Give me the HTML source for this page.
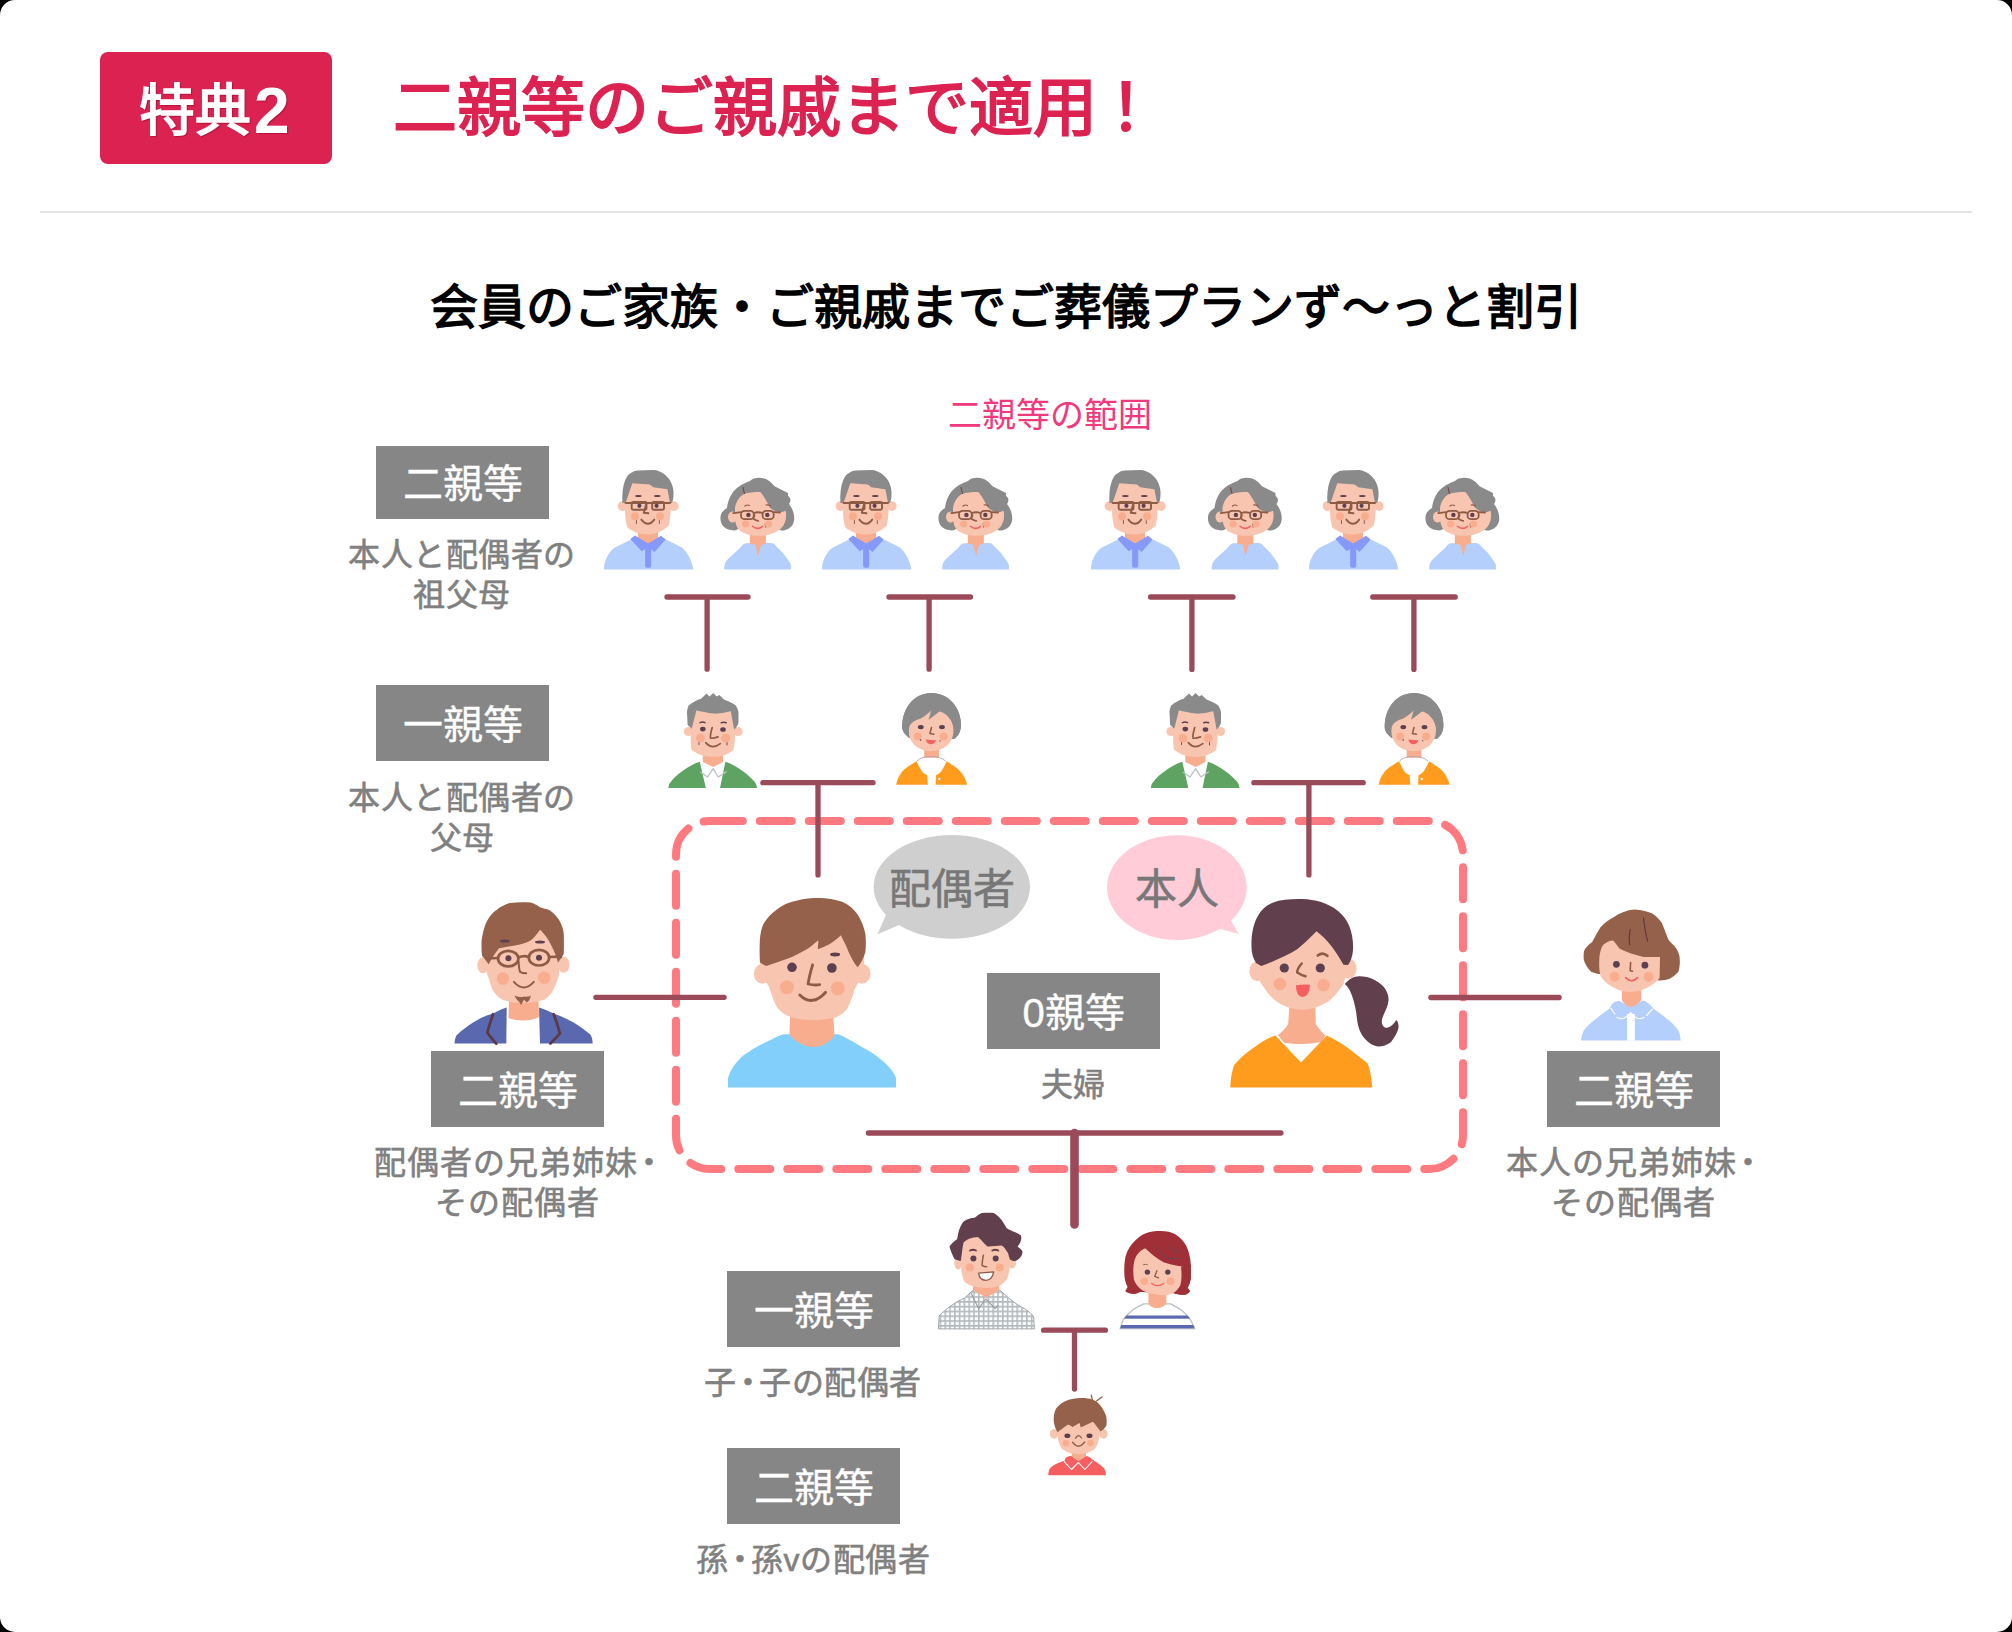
<!DOCTYPE html>
<html lang="zh-CN">
<head>
<meta charset="utf-8">
<style>
html,body{margin:0;padding:0;background:#000;}
body{width:2012px;height:1632px;overflow:hidden;font-family:"Liberation Sans",sans-serif;}
#card{position:absolute;left:0;top:0;width:2012px;height:1632px;background:#fff;border-radius:15px;overflow:hidden;}
.t{position:absolute;white-space:nowrap;line-height:1;}
.c{transform:translateX(-50%);text-align:center;}
.badge{position:absolute;left:100px;top:52px;width:232px;height:112px;background:#dc2250;border-radius:8px;}
.box{position:absolute;width:173px;height:76px;background:#868686;color:#fff;font-size:40px;line-height:80px;text-align:center;-webkit-text-stroke:0.35px #fff;}
.cap{position:absolute;color:#808080;font-size:32px;line-height:40px;text-align:center;white-space:nowrap;transform:translateX(-50%);-webkit-text-stroke:0.6px #808080;letter-spacing:0.5px;}
.dot{margin:0 -5px;}
svg{position:absolute;left:0;top:0;}
</style>
</head>
<body>
<div id="card">
  <div class="badge"></div>
  <div class="t" style="left:139px;top:79px;font-size:56px;font-weight:bold;color:#fff;text-shadow:1px 1px 1px rgba(90,0,20,.35);">特典<span style="font-size:64px;margin-left:3px;vertical-align:-3px;">2</span></div>
  <div class="t" style="left:393px;top:76px;font-size:64px;font-weight:bold;color:#dc2250;">二親等のご親戚まで適用<span style="margin-left:13px">！</span></div>
  <div style="position:absolute;left:40px;top:211px;width:1932px;height:2px;background:#e3e3e3;"></div>
  <div class="t c" style="left:1006px;top:284px;font-size:48px;font-weight:bold;color:#000;">会員のご家族・ご親戚までご葬儀プランず〜っと割引</div>
  <div class="t c" style="left:1050px;top:398px;font-size:34px;color:#ef3a7e;">二親等の範囲</div>

  <svg width="2012" height="1632" viewBox="0 0 2012 1632">
    <path fill="none" stroke="#ff7a80" stroke-width="8" stroke-linecap="round" stroke-dasharray="32 17" d="M710.8,821 H1429.5 A33.5,33.5 0 0 1 1463,854.5 V1135.5 A33.5,33.5 0 0 1 1429.5,1169 H709.5 A33.5,33.5 0 0 1 676,1135.5 V854.5 A33.5,33.5 0 0 1 709.5,821 Z"/>
    <g stroke="#9b4a5a" stroke-width="5.3" stroke-linecap="round" fill="none">
      <path d="M667,597H748M707.1,597V669.2"/>
      <path d="M889,597H970.5M929.1,597V669.2"/>
      <path d="M1150.6,597H1233M1191.9,597V669.4"/>
      <path d="M1372.8,597H1455.2M1413.9,597V669.4"/>
      <path d="M762.9,782.7H873M818,782.7V874.9"/>
      <path d="M1253.9,782.7H1363.2M1308.9,782.7V874.9"/>
      <path d="M595.9,997.3H724.1"/>
      <path d="M1430.9,997.5H1559.1"/>
      <path d="M868.4,1133H1280.9"/>
      <path stroke-width="8.6" d="M1074.5,1133V1224.4"/>
      <path d="M1043.6,1330.2H1105.4M1074.5,1330.2V1389.1"/>
    </g>
  </svg>
  <svg width="2012" height="1632" viewBox="0 0 2012 1632">
    <defs>
      <pattern id="check" width="4.8" height="4.8" patternUnits="userSpaceOnUse">
        <rect width="4.8" height="4.8" fill="#fff"/>
        <path d="M0 0.8H4.8M0.8 0V4.8" stroke="#b3babe" stroke-width="1.6"/>
      </pattern>
    </defs>

    <!-- grandparents -->
    <g transform="translate(600,465)">
        <path fill="#b5cffc" d="M4,104.4 C4,96 8,88 14,83 L28,76 C29,75.3 30,75 31,75 L66,75 C67,75 68,75.3 69,76 L82,82.5 C88,88 92,96 93.3,104.4 Z"/>
        <path fill="#f9ad8f" d="M38,66 L58,66 L58,75 L48.2,80 L38,75 Z"/>
        <path fill="#8599f9" d="M30.3,74.1 L35,70.4 L48.2,78.5 L61,70.8 L65.7,74.5 L54.6,86.9 L48.2,82 L41.8,86.3 Z"/>
        <rect fill="#8599f9" x="45.1" y="80" width="6.1" height="22.8" rx="2"/>
        <circle fill="#f8c5b0" cx="22.4" cy="41.1" r="4.8"/>
        <circle fill="#f8c5b0" cx="73.9" cy="41.1" r="4.8"/>
        <path fill="#f8c5b0" d="M25,17 L25,45 C25,53 26,59 27.6,62.7 C33,67 40,69.4 48,69.4 C56,69.4 63,66 68.7,60.6 C70,55 70.8,48 70.8,40 L70.8,17 Z"/>
        <path fill="#8a8a8a" d="M22.4,38 C22,30 22.5,22 25,15.5 C27,11 29,9 31,8.1 C33.5,6 35.5,5.5 37.7,5.4 L53.9,5.1 C57,5.3 60,6.5 62.7,8.1 C66,10.5 68.5,13 70.1,15.5 C72.5,20 73.5,24 73.5,27 C73.6,31 73.5,34 72,38 L70,37.7 L67.4,24.3 L53.2,22.2 L49.9,19.5 L32.3,18.2 L25.6,37.7 Z"/>
        <ellipse fill="#5c4050" cx="38.4" cy="31" rx="3.3" ry="1.1"/>
        <ellipse fill="#5c4050" cx="57.3" cy="31" rx="3.3" ry="1.1"/>
        <g fill="none" stroke="#8e5b45" stroke-width="1.9" stroke-linecap="round" stroke-linejoin="round">
          <rect x="31.7" y="37" width="14.8" height="7.8" rx="1.5"/>
          <rect x="52.2" y="37" width="11.8" height="7.8" rx="1.5"/>
          <path d="M25.6,38 H70"/>
          <path d="M46.5,37.7 L43.8,47.8 L48.5,48.2"/>
          <path d="M41.4,54.6 Q48.2,63 54.2,54.6"/>
          <path d="M36.4,55.5 V58.5 M59.3,55.5 V58.5" stroke-width="1"/>
        </g>
        <circle fill="#5c4050" cx="39.4" cy="40.8" r="2.1"/>
        <circle fill="#5c4050" cx="56.6" cy="40.8" r="2.1"/>
        <circle fill="#f9ad8f" cx="35" cy="51.2" r="4"/>
        <circle fill="#f9ad8f" cx="60" cy="51.2" r="4"/>
    </g>
    <g transform="translate(710,465)">
        <path fill="#8a8a8a" d="M47,13 C56,12 62,17 66,24 C69,28 72,30 76,30 C80,31 82,35 79,39 C82,43 84.5,48 84.2,54 C84,60 80,64 74,65.5 C71,66 69,65 67,62 L30,62 C28,65 25,66 21,65 C13,64 10,58 10.5,52 C11,47 14,45 17,43 C18,35 21,28 27,23 C32,19 37,17 40,16 C42,14 44,13 47,13 Z"/>
        <path fill="#b5cffc" d="M14.2,104.4 C14.2,99 15.5,96.5 18,94 L30,83 C32,80.5 33.5,78.5 36,78.2 L61,78 C63,78 64.5,79 66,81 L73,88 C76,92 79,96 80.9,99.5 L80.9,104.4 Z"/>
        <path fill="#f9ad8f" d="M39.8,66 H55.9 V79 L51.2,79.5 L48.2,91 L45.1,79.5 L39.8,79 Z"/>
        <ellipse fill="#f8c5b0" cx="22.5" cy="52" rx="4.5" ry="5.5"/><path fill="#f8c5b0" d="M25,43 C26,36 30,31 34,29 C38,27.5 44,27 49.9,27 C58,27 66,30 71,36 C75,41 76.1,46 76.1,51 C76,58 72,64 67.4,66 C62,69.5 55,70.8 48.2,70.8 C41,70.8 34,69 29,65 C26.5,62 25,58 25,52 Z"/>
        <path fill="#8a8a8a" d="M49.9,26.5 C53,30 56,35 58,39 C59,42 61,44 64,45.5 C67,47 70,47.2 72,47 L78,45 L78,28 L62,20 Z"/>
        <path fill="none" stroke="#7a3a3a" stroke-width="1" d="M33,22.2 C33.5,25 34,27 34.6,29"/>
        <g fill="none" stroke="#8e5b45" stroke-width="1.8" stroke-linecap="round">
          <path d="M35,41 Q37,39.3 39.5,40.5 M56,40 Q58.5,39.5 60.5,41" stroke-width="1.2"/>
          <rect x="31" y="45.8" width="12.8" height="8.4" rx="3.5"/>
          <rect x="52.6" y="45.8" width="11.1" height="8.4" rx="3.5"/>
          <path d="M23.2,48.2 L31,47.2 M43.8,48 Q48,46.5 52.6,48 M63.7,47.2 L70,47.5"/>
          <path d="M44.5,50.2 Q43,53 43.8,54 Q46,55.5 48.2,55.9"/>
          <path d="M55,59 L55.7,62.3" stroke-width="0.9"/>
        </g>
        <circle fill="#5c4050" cx="38.4" cy="49.9" r="2.2"/>
        <circle fill="#5c4050" cx="57.3" cy="49.9" r="2.2"/>
        <circle fill="#f9ad8f" cx="35.7" cy="59" r="3.6"/>
        <circle fill="#f9ad8f" cx="58.6" cy="59" r="3.6"/>
        <path fill="none" stroke="#f55f5f" stroke-width="1.5" stroke-linecap="round" d="M42.5,61.3 Q47.5,65.5 52.6,61.3"/>
    </g>
    <g transform="translate(818,465)">
        <path fill="#b5cffc" d="M4,104.4 C4,96 8,88 14,83 L28,76 C29,75.3 30,75 31,75 L66,75 C67,75 68,75.3 69,76 L82,82.5 C88,88 92,96 93.3,104.4 Z"/>
        <path fill="#f9ad8f" d="M38,66 L58,66 L58,75 L48.2,80 L38,75 Z"/>
        <path fill="#8599f9" d="M30.3,74.1 L35,70.4 L48.2,78.5 L61,70.8 L65.7,74.5 L54.6,86.9 L48.2,82 L41.8,86.3 Z"/>
        <rect fill="#8599f9" x="45.1" y="80" width="6.1" height="22.8" rx="2"/>
        <circle fill="#f8c5b0" cx="22.4" cy="41.1" r="4.8"/>
        <circle fill="#f8c5b0" cx="73.9" cy="41.1" r="4.8"/>
        <path fill="#f8c5b0" d="M25,17 L25,45 C25,53 26,59 27.6,62.7 C33,67 40,69.4 48,69.4 C56,69.4 63,66 68.7,60.6 C70,55 70.8,48 70.8,40 L70.8,17 Z"/>
        <path fill="#8a8a8a" d="M22.4,38 C22,30 22.5,22 25,15.5 C27,11 29,9 31,8.1 C33.5,6 35.5,5.5 37.7,5.4 L53.9,5.1 C57,5.3 60,6.5 62.7,8.1 C66,10.5 68.5,13 70.1,15.5 C72.5,20 73.5,24 73.5,27 C73.6,31 73.5,34 72,38 L70,37.7 L67.4,24.3 L53.2,22.2 L49.9,19.5 L32.3,18.2 L25.6,37.7 Z"/>
        <ellipse fill="#5c4050" cx="38.4" cy="31" rx="3.3" ry="1.1"/>
        <ellipse fill="#5c4050" cx="57.3" cy="31" rx="3.3" ry="1.1"/>
        <g fill="none" stroke="#8e5b45" stroke-width="1.9" stroke-linecap="round" stroke-linejoin="round">
          <rect x="31.7" y="37" width="14.8" height="7.8" rx="1.5"/>
          <rect x="52.2" y="37" width="11.8" height="7.8" rx="1.5"/>
          <path d="M25.6,38 H70"/>
          <path d="M46.5,37.7 L43.8,47.8 L48.5,48.2"/>
          <path d="M41.4,54.6 Q48.2,63 54.2,54.6"/>
          <path d="M36.4,55.5 V58.5 M59.3,55.5 V58.5" stroke-width="1"/>
        </g>
        <circle fill="#5c4050" cx="39.4" cy="40.8" r="2.1"/>
        <circle fill="#5c4050" cx="56.6" cy="40.8" r="2.1"/>
        <circle fill="#f9ad8f" cx="35" cy="51.2" r="4"/>
        <circle fill="#f9ad8f" cx="60" cy="51.2" r="4"/>
    </g>
    <g transform="translate(928,465)">
        <path fill="#8a8a8a" d="M47,13 C56,12 62,17 66,24 C69,28 72,30 76,30 C80,31 82,35 79,39 C82,43 84.5,48 84.2,54 C84,60 80,64 74,65.5 C71,66 69,65 67,62 L30,62 C28,65 25,66 21,65 C13,64 10,58 10.5,52 C11,47 14,45 17,43 C18,35 21,28 27,23 C32,19 37,17 40,16 C42,14 44,13 47,13 Z"/>
        <path fill="#b5cffc" d="M14.2,104.4 C14.2,99 15.5,96.5 18,94 L30,83 C32,80.5 33.5,78.5 36,78.2 L61,78 C63,78 64.5,79 66,81 L73,88 C76,92 79,96 80.9,99.5 L80.9,104.4 Z"/>
        <path fill="#f9ad8f" d="M39.8,66 H55.9 V79 L51.2,79.5 L48.2,91 L45.1,79.5 L39.8,79 Z"/>
        <ellipse fill="#f8c5b0" cx="22.5" cy="52" rx="4.5" ry="5.5"/><path fill="#f8c5b0" d="M25,43 C26,36 30,31 34,29 C38,27.5 44,27 49.9,27 C58,27 66,30 71,36 C75,41 76.1,46 76.1,51 C76,58 72,64 67.4,66 C62,69.5 55,70.8 48.2,70.8 C41,70.8 34,69 29,65 C26.5,62 25,58 25,52 Z"/>
        <path fill="#8a8a8a" d="M49.9,26.5 C53,30 56,35 58,39 C59,42 61,44 64,45.5 C67,47 70,47.2 72,47 L78,45 L78,28 L62,20 Z"/>
        <path fill="none" stroke="#7a3a3a" stroke-width="1" d="M33,22.2 C33.5,25 34,27 34.6,29"/>
        <g fill="none" stroke="#8e5b45" stroke-width="1.8" stroke-linecap="round">
          <path d="M35,41 Q37,39.3 39.5,40.5 M56,40 Q58.5,39.5 60.5,41" stroke-width="1.2"/>
          <rect x="31" y="45.8" width="12.8" height="8.4" rx="3.5"/>
          <rect x="52.6" y="45.8" width="11.1" height="8.4" rx="3.5"/>
          <path d="M23.2,48.2 L31,47.2 M43.8,48 Q48,46.5 52.6,48 M63.7,47.2 L70,47.5"/>
          <path d="M44.5,50.2 Q43,53 43.8,54 Q46,55.5 48.2,55.9"/>
          <path d="M55,59 L55.7,62.3" stroke-width="0.9"/>
        </g>
        <circle fill="#5c4050" cx="38.4" cy="49.9" r="2.2"/>
        <circle fill="#5c4050" cx="57.3" cy="49.9" r="2.2"/>
        <circle fill="#f9ad8f" cx="35.7" cy="59" r="3.6"/>
        <circle fill="#f9ad8f" cx="58.6" cy="59" r="3.6"/>
        <path fill="none" stroke="#f55f5f" stroke-width="1.5" stroke-linecap="round" d="M42.5,61.3 Q47.5,65.5 52.6,61.3"/>
    </g>
    <g transform="translate(1087,465)">
        <path fill="#b5cffc" d="M4,104.4 C4,96 8,88 14,83 L28,76 C29,75.3 30,75 31,75 L66,75 C67,75 68,75.3 69,76 L82,82.5 C88,88 92,96 93.3,104.4 Z"/>
        <path fill="#f9ad8f" d="M38,66 L58,66 L58,75 L48.2,80 L38,75 Z"/>
        <path fill="#8599f9" d="M30.3,74.1 L35,70.4 L48.2,78.5 L61,70.8 L65.7,74.5 L54.6,86.9 L48.2,82 L41.8,86.3 Z"/>
        <rect fill="#8599f9" x="45.1" y="80" width="6.1" height="22.8" rx="2"/>
        <circle fill="#f8c5b0" cx="22.4" cy="41.1" r="4.8"/>
        <circle fill="#f8c5b0" cx="73.9" cy="41.1" r="4.8"/>
        <path fill="#f8c5b0" d="M25,17 L25,45 C25,53 26,59 27.6,62.7 C33,67 40,69.4 48,69.4 C56,69.4 63,66 68.7,60.6 C70,55 70.8,48 70.8,40 L70.8,17 Z"/>
        <path fill="#8a8a8a" d="M22.4,38 C22,30 22.5,22 25,15.5 C27,11 29,9 31,8.1 C33.5,6 35.5,5.5 37.7,5.4 L53.9,5.1 C57,5.3 60,6.5 62.7,8.1 C66,10.5 68.5,13 70.1,15.5 C72.5,20 73.5,24 73.5,27 C73.6,31 73.5,34 72,38 L70,37.7 L67.4,24.3 L53.2,22.2 L49.9,19.5 L32.3,18.2 L25.6,37.7 Z"/>
        <ellipse fill="#5c4050" cx="38.4" cy="31" rx="3.3" ry="1.1"/>
        <ellipse fill="#5c4050" cx="57.3" cy="31" rx="3.3" ry="1.1"/>
        <g fill="none" stroke="#8e5b45" stroke-width="1.9" stroke-linecap="round" stroke-linejoin="round">
          <rect x="31.7" y="37" width="14.8" height="7.8" rx="1.5"/>
          <rect x="52.2" y="37" width="11.8" height="7.8" rx="1.5"/>
          <path d="M25.6,38 H70"/>
          <path d="M46.5,37.7 L43.8,47.8 L48.5,48.2"/>
          <path d="M41.4,54.6 Q48.2,63 54.2,54.6"/>
          <path d="M36.4,55.5 V58.5 M59.3,55.5 V58.5" stroke-width="1"/>
        </g>
        <circle fill="#5c4050" cx="39.4" cy="40.8" r="2.1"/>
        <circle fill="#5c4050" cx="56.6" cy="40.8" r="2.1"/>
        <circle fill="#f9ad8f" cx="35" cy="51.2" r="4"/>
        <circle fill="#f9ad8f" cx="60" cy="51.2" r="4"/>
    </g>
    <g transform="translate(1197.5,465)">
        <path fill="#8a8a8a" d="M47,13 C56,12 62,17 66,24 C69,28 72,30 76,30 C80,31 82,35 79,39 C82,43 84.5,48 84.2,54 C84,60 80,64 74,65.5 C71,66 69,65 67,62 L30,62 C28,65 25,66 21,65 C13,64 10,58 10.5,52 C11,47 14,45 17,43 C18,35 21,28 27,23 C32,19 37,17 40,16 C42,14 44,13 47,13 Z"/>
        <path fill="#b5cffc" d="M14.2,104.4 C14.2,99 15.5,96.5 18,94 L30,83 C32,80.5 33.5,78.5 36,78.2 L61,78 C63,78 64.5,79 66,81 L73,88 C76,92 79,96 80.9,99.5 L80.9,104.4 Z"/>
        <path fill="#f9ad8f" d="M39.8,66 H55.9 V79 L51.2,79.5 L48.2,91 L45.1,79.5 L39.8,79 Z"/>
        <ellipse fill="#f8c5b0" cx="22.5" cy="52" rx="4.5" ry="5.5"/><path fill="#f8c5b0" d="M25,43 C26,36 30,31 34,29 C38,27.5 44,27 49.9,27 C58,27 66,30 71,36 C75,41 76.1,46 76.1,51 C76,58 72,64 67.4,66 C62,69.5 55,70.8 48.2,70.8 C41,70.8 34,69 29,65 C26.5,62 25,58 25,52 Z"/>
        <path fill="#8a8a8a" d="M49.9,26.5 C53,30 56,35 58,39 C59,42 61,44 64,45.5 C67,47 70,47.2 72,47 L78,45 L78,28 L62,20 Z"/>
        <path fill="none" stroke="#7a3a3a" stroke-width="1" d="M33,22.2 C33.5,25 34,27 34.6,29"/>
        <g fill="none" stroke="#8e5b45" stroke-width="1.8" stroke-linecap="round">
          <path d="M35,41 Q37,39.3 39.5,40.5 M56,40 Q58.5,39.5 60.5,41" stroke-width="1.2"/>
          <rect x="31" y="45.8" width="12.8" height="8.4" rx="3.5"/>
          <rect x="52.6" y="45.8" width="11.1" height="8.4" rx="3.5"/>
          <path d="M23.2,48.2 L31,47.2 M43.8,48 Q48,46.5 52.6,48 M63.7,47.2 L70,47.5"/>
          <path d="M44.5,50.2 Q43,53 43.8,54 Q46,55.5 48.2,55.9"/>
          <path d="M55,59 L55.7,62.3" stroke-width="0.9"/>
        </g>
        <circle fill="#5c4050" cx="38.4" cy="49.9" r="2.2"/>
        <circle fill="#5c4050" cx="57.3" cy="49.9" r="2.2"/>
        <circle fill="#f9ad8f" cx="35.7" cy="59" r="3.6"/>
        <circle fill="#f9ad8f" cx="58.6" cy="59" r="3.6"/>
        <path fill="none" stroke="#f55f5f" stroke-width="1.5" stroke-linecap="round" d="M42.5,61.3 Q47.5,65.5 52.6,61.3"/>
    </g>
    <g transform="translate(1305,465)">
        <path fill="#b5cffc" d="M4,104.4 C4,96 8,88 14,83 L28,76 C29,75.3 30,75 31,75 L66,75 C67,75 68,75.3 69,76 L82,82.5 C88,88 92,96 93.3,104.4 Z"/>
        <path fill="#f9ad8f" d="M38,66 L58,66 L58,75 L48.2,80 L38,75 Z"/>
        <path fill="#8599f9" d="M30.3,74.1 L35,70.4 L48.2,78.5 L61,70.8 L65.7,74.5 L54.6,86.9 L48.2,82 L41.8,86.3 Z"/>
        <rect fill="#8599f9" x="45.1" y="80" width="6.1" height="22.8" rx="2"/>
        <circle fill="#f8c5b0" cx="22.4" cy="41.1" r="4.8"/>
        <circle fill="#f8c5b0" cx="73.9" cy="41.1" r="4.8"/>
        <path fill="#f8c5b0" d="M25,17 L25,45 C25,53 26,59 27.6,62.7 C33,67 40,69.4 48,69.4 C56,69.4 63,66 68.7,60.6 C70,55 70.8,48 70.8,40 L70.8,17 Z"/>
        <path fill="#8a8a8a" d="M22.4,38 C22,30 22.5,22 25,15.5 C27,11 29,9 31,8.1 C33.5,6 35.5,5.5 37.7,5.4 L53.9,5.1 C57,5.3 60,6.5 62.7,8.1 C66,10.5 68.5,13 70.1,15.5 C72.5,20 73.5,24 73.5,27 C73.6,31 73.5,34 72,38 L70,37.7 L67.4,24.3 L53.2,22.2 L49.9,19.5 L32.3,18.2 L25.6,37.7 Z"/>
        <ellipse fill="#5c4050" cx="38.4" cy="31" rx="3.3" ry="1.1"/>
        <ellipse fill="#5c4050" cx="57.3" cy="31" rx="3.3" ry="1.1"/>
        <g fill="none" stroke="#8e5b45" stroke-width="1.9" stroke-linecap="round" stroke-linejoin="round">
          <rect x="31.7" y="37" width="14.8" height="7.8" rx="1.5"/>
          <rect x="52.2" y="37" width="11.8" height="7.8" rx="1.5"/>
          <path d="M25.6,38 H70"/>
          <path d="M46.5,37.7 L43.8,47.8 L48.5,48.2"/>
          <path d="M41.4,54.6 Q48.2,63 54.2,54.6"/>
          <path d="M36.4,55.5 V58.5 M59.3,55.5 V58.5" stroke-width="1"/>
        </g>
        <circle fill="#5c4050" cx="39.4" cy="40.8" r="2.1"/>
        <circle fill="#5c4050" cx="56.6" cy="40.8" r="2.1"/>
        <circle fill="#f9ad8f" cx="35" cy="51.2" r="4"/>
        <circle fill="#f9ad8f" cx="60" cy="51.2" r="4"/>
    </g>
    <g transform="translate(1415,465)">
        <path fill="#8a8a8a" d="M47,13 C56,12 62,17 66,24 C69,28 72,30 76,30 C80,31 82,35 79,39 C82,43 84.5,48 84.2,54 C84,60 80,64 74,65.5 C71,66 69,65 67,62 L30,62 C28,65 25,66 21,65 C13,64 10,58 10.5,52 C11,47 14,45 17,43 C18,35 21,28 27,23 C32,19 37,17 40,16 C42,14 44,13 47,13 Z"/>
        <path fill="#b5cffc" d="M14.2,104.4 C14.2,99 15.5,96.5 18,94 L30,83 C32,80.5 33.5,78.5 36,78.2 L61,78 C63,78 64.5,79 66,81 L73,88 C76,92 79,96 80.9,99.5 L80.9,104.4 Z"/>
        <path fill="#f9ad8f" d="M39.8,66 H55.9 V79 L51.2,79.5 L48.2,91 L45.1,79.5 L39.8,79 Z"/>
        <ellipse fill="#f8c5b0" cx="22.5" cy="52" rx="4.5" ry="5.5"/><path fill="#f8c5b0" d="M25,43 C26,36 30,31 34,29 C38,27.5 44,27 49.9,27 C58,27 66,30 71,36 C75,41 76.1,46 76.1,51 C76,58 72,64 67.4,66 C62,69.5 55,70.8 48.2,70.8 C41,70.8 34,69 29,65 C26.5,62 25,58 25,52 Z"/>
        <path fill="#8a8a8a" d="M49.9,26.5 C53,30 56,35 58,39 C59,42 61,44 64,45.5 C67,47 70,47.2 72,47 L78,45 L78,28 L62,20 Z"/>
        <path fill="none" stroke="#7a3a3a" stroke-width="1" d="M33,22.2 C33.5,25 34,27 34.6,29"/>
        <g fill="none" stroke="#8e5b45" stroke-width="1.8" stroke-linecap="round">
          <path d="M35,41 Q37,39.3 39.5,40.5 M56,40 Q58.5,39.5 60.5,41" stroke-width="1.2"/>
          <rect x="31" y="45.8" width="12.8" height="8.4" rx="3.5"/>
          <rect x="52.6" y="45.8" width="11.1" height="8.4" rx="3.5"/>
          <path d="M23.2,48.2 L31,47.2 M43.8,48 Q48,46.5 52.6,48 M63.7,47.2 L70,47.5"/>
          <path d="M44.5,50.2 Q43,53 43.8,54 Q46,55.5 48.2,55.9"/>
          <path d="M55,59 L55.7,62.3" stroke-width="0.9"/>
        </g>
        <circle fill="#5c4050" cx="38.4" cy="49.9" r="2.2"/>
        <circle fill="#5c4050" cx="57.3" cy="49.9" r="2.2"/>
        <circle fill="#f9ad8f" cx="35.7" cy="59" r="3.6"/>
        <circle fill="#f9ad8f" cx="58.6" cy="59" r="3.6"/>
        <path fill="none" stroke="#f55f5f" stroke-width="1.5" stroke-linecap="round" d="M42.5,61.3 Q47.5,65.5 52.6,61.3"/>
    </g>
    <!-- parents -->
    <g transform="translate(660,685)">
        <path fill="#5fa363" d="M8.4,103.1 C8.6,100 9.5,98 10.8,97 C14,92.5 18,89 22.2,86.3 C28,82 34,78.5 39.8,76.8 L45.8,103.1 Z"/>
        <path fill="#5fa363" d="M65.4,76.8 C71,78.5 77,82 82.9,86.3 C87,89 91,93 94.4,96.4 C96,98.5 96.8,100.5 97,103.1 L60,103.1 Z"/>
        <path fill="none" stroke="#bac0c5" stroke-width="1.3" stroke-linejoin="round" d="M40.4,87 L47.5,92 L53.2,83.6 L58.3,92 L66.4,86.6"/>
        <path fill="#f9ad8f" d="M42.8,68 H63 V77 L53.2,82 L42.8,77 Z"/>
        <circle fill="#f8c5b0" cx="28.5" cy="46.5" r="4.6"/>
        <circle fill="#f8c5b0" cx="78" cy="46.5" r="4.6"/>
        <path fill="#f8c5b0" d="M30.7,26 L30.7,55 C30.7,60 31,63 31.7,64.7 C38,70 45,71.8 53.2,71.8 C61,71.8 68,70 73.5,64.7 C74.5,60 75.2,55 75.2,45 L75.2,26 Z"/>
        <path fill="#8a8a8a" d="M27,27 C27.5,22 29,20.2 29,20.2 C33,17 37,15 41.1,13.8 L46.5,8.4 L49.5,11.5 L53.2,8.1 L56.6,11.5 L59.3,10.1 L64,14.5 C68,16 72,18 75.5,20.2 C77.5,23 78.5,26 78.5,28.3 L78.5,37.7 C78,40 76,43 74.1,44.5 L70.8,26.3 C67,27 63,28 59.3,28.3 C57,28.6 55,28.7 53.9,28.6 C47,28 41,26.5 36.4,25.6 L31.7,43.8 C30,42 28.5,41 27.6,39.8 Z"/>
        <g fill="none" stroke-linecap="round">
          <path stroke="#5c4050" stroke-width="1.5" d="M40,37.6 Q42.5,36.5 45,37.6 M61.2,37.8 Q63.7,36.8 66.2,37.8"/>
          <path stroke="#8e5b45" stroke-width="1.7" stroke-linejoin="round" d="M52.2,42.5 Q50,50 50.5,53.2 Q54,53.5 58,51.9"/>
          <path stroke="#8e5b45" stroke-width="1.7" d="M45.8,57.6 Q52,65 60.3,58.6"/>
          <path stroke="#5c4050" stroke-width="0.9" d="M39,56.5 V59.5 M67,57.3 V60"/>
        </g>
        <ellipse fill="#5c4050" cx="42.8" cy="44.1" rx="2.8" ry="2.3"/>
        <ellipse fill="#5c4050" cx="63" cy="44.5" rx="2.8" ry="2.3"/>
        <circle fill="#f9ad8f" cx="40.4" cy="53.2" r="4.4"/>
        <circle fill="#f9ad8f" cx="65.7" cy="53.2" r="4.4"/>
    </g>
    <g transform="translate(880,685)">
        <path fill="#8a8a8a" d="M22.2,42 C22.2,22 35,8.1 51.5,8.1 C68,8.1 80.9,22 80.9,40 C80.9,46 79,50 74,54 L29,53 C25,50 22.2,46 22.2,42 Z"/>
        <rect fill="#f9ad8f" x="44.2" y="62" width="14.8" height="10.8"/>
        <path fill="#f8c5b0" d="M28.6,45 C28.6,58 38,66 51,66 C64,66 73.5,58 73.5,45 C73.5,33 64,25 51,25 C38,25 28.6,33 28.6,45 Z"/>
        <path fill="#8a8a8a" d="M22.2,42 C22.2,22 35,8.1 51.5,8.1 C68,8.1 80.9,22 80.9,40 C80.9,46 79,50 74.5,54 L73.5,41.8 C72.5,38 71,35 68.8,32.4 C67,30 64,27 61.3,25.3 C57,28 53,32 48.5,34.7 L51.2,25.6 C48,28.5 45,31.5 40.4,33.7 C35,35 30,38 29,43.1 L28.6,52 C25,49 22.2,46 22.2,42 Z"/>
        <path fill="#ff9c1e" d="M16.2,99.8 C17,95 18.5,92 20.2,89.6 C22,86 24.5,84 27,82.2 L36.4,76.2 C37.5,78 39,82 41.8,86.3 C43.5,88.5 45.5,89.5 47.2,90.3 L47.9,99.8 Z"/>
        <path fill="#ff9c1e" d="M66.7,76.2 L76.8,82.9 C79.5,85 82,88 83.6,91 C85,93.5 86.5,96.5 87,99.8 L55.6,99.8 L56,90.3 C58,89.5 59.5,88 60.7,87 C63,84 65,80 66.7,76.2 Z"/>
        <path fill="none" stroke="#b5a5ad" stroke-width="0.9" d="M37,76 C40,72.8 45,71.5 51.2,71.5 C57,71.5 62,72.8 65.5,76"/>
        <circle fill="#fff" cx="59.3" cy="94" r="1.2"/>
        <ellipse fill="#5c4050" cx="40.8" cy="42.1" rx="2.9" ry="2.2"/>
        <ellipse fill="#5c4050" cx="62" cy="42.1" rx="2.9" ry="2.2"/>
        <path fill="none" stroke="#8e5b45" stroke-width="1.5" stroke-linecap="round" stroke-linejoin="round" d="M51.5,42.5 L49.9,48.5 L53.9,49.2"/>
        <circle fill="#f9ad8f" cx="37.7" cy="51.6" r="4"/>
        <circle fill="#f9ad8f" cx="63.7" cy="51.6" r="4"/>
        <path fill="#f55f5f" d="M45.8,54.6 Q51,55.5 56,55.3 Q54.5,59.3 50.9,59.3 Q47,59.3 45.8,54.6 Z"/>
        <path fill="none" stroke="#5c4050" stroke-width="0.8" d="M40.8,54 L40.6,56 M60,55 L60.2,56.5"/>
    </g>
    <g transform="translate(1142.5,685)">
        <path fill="#5fa363" d="M8.4,103.1 C8.6,100 9.5,98 10.8,97 C14,92.5 18,89 22.2,86.3 C28,82 34,78.5 39.8,76.8 L45.8,103.1 Z"/>
        <path fill="#5fa363" d="M65.4,76.8 C71,78.5 77,82 82.9,86.3 C87,89 91,93 94.4,96.4 C96,98.5 96.8,100.5 97,103.1 L60,103.1 Z"/>
        <path fill="none" stroke="#bac0c5" stroke-width="1.3" stroke-linejoin="round" d="M40.4,87 L47.5,92 L53.2,83.6 L58.3,92 L66.4,86.6"/>
        <path fill="#f9ad8f" d="M42.8,68 H63 V77 L53.2,82 L42.8,77 Z"/>
        <circle fill="#f8c5b0" cx="28.5" cy="46.5" r="4.6"/>
        <circle fill="#f8c5b0" cx="78" cy="46.5" r="4.6"/>
        <path fill="#f8c5b0" d="M30.7,26 L30.7,55 C30.7,60 31,63 31.7,64.7 C38,70 45,71.8 53.2,71.8 C61,71.8 68,70 73.5,64.7 C74.5,60 75.2,55 75.2,45 L75.2,26 Z"/>
        <path fill="#8a8a8a" d="M27,27 C27.5,22 29,20.2 29,20.2 C33,17 37,15 41.1,13.8 L46.5,8.4 L49.5,11.5 L53.2,8.1 L56.6,11.5 L59.3,10.1 L64,14.5 C68,16 72,18 75.5,20.2 C77.5,23 78.5,26 78.5,28.3 L78.5,37.7 C78,40 76,43 74.1,44.5 L70.8,26.3 C67,27 63,28 59.3,28.3 C57,28.6 55,28.7 53.9,28.6 C47,28 41,26.5 36.4,25.6 L31.7,43.8 C30,42 28.5,41 27.6,39.8 Z"/>
        <g fill="none" stroke-linecap="round">
          <path stroke="#5c4050" stroke-width="1.5" d="M40,37.6 Q42.5,36.5 45,37.6 M61.2,37.8 Q63.7,36.8 66.2,37.8"/>
          <path stroke="#8e5b45" stroke-width="1.7" stroke-linejoin="round" d="M52.2,42.5 Q50,50 50.5,53.2 Q54,53.5 58,51.9"/>
          <path stroke="#8e5b45" stroke-width="1.7" d="M45.8,57.6 Q52,65 60.3,58.6"/>
          <path stroke="#5c4050" stroke-width="0.9" d="M39,56.5 V59.5 M67,57.3 V60"/>
        </g>
        <ellipse fill="#5c4050" cx="42.8" cy="44.1" rx="2.8" ry="2.3"/>
        <ellipse fill="#5c4050" cx="63" cy="44.5" rx="2.8" ry="2.3"/>
        <circle fill="#f9ad8f" cx="40.4" cy="53.2" r="4.4"/>
        <circle fill="#f9ad8f" cx="65.7" cy="53.2" r="4.4"/>
    </g>
    <g transform="translate(1362.5,685)">
        <path fill="#8a8a8a" d="M22.2,42 C22.2,22 35,8.1 51.5,8.1 C68,8.1 80.9,22 80.9,40 C80.9,46 79,50 74,54 L29,53 C25,50 22.2,46 22.2,42 Z"/>
        <rect fill="#f9ad8f" x="44.2" y="62" width="14.8" height="10.8"/>
        <path fill="#f8c5b0" d="M28.6,45 C28.6,58 38,66 51,66 C64,66 73.5,58 73.5,45 C73.5,33 64,25 51,25 C38,25 28.6,33 28.6,45 Z"/>
        <path fill="#8a8a8a" d="M22.2,42 C22.2,22 35,8.1 51.5,8.1 C68,8.1 80.9,22 80.9,40 C80.9,46 79,50 74.5,54 L73.5,41.8 C72.5,38 71,35 68.8,32.4 C67,30 64,27 61.3,25.3 C57,28 53,32 48.5,34.7 L51.2,25.6 C48,28.5 45,31.5 40.4,33.7 C35,35 30,38 29,43.1 L28.6,52 C25,49 22.2,46 22.2,42 Z"/>
        <path fill="#ff9c1e" d="M16.2,99.8 C17,95 18.5,92 20.2,89.6 C22,86 24.5,84 27,82.2 L36.4,76.2 C37.5,78 39,82 41.8,86.3 C43.5,88.5 45.5,89.5 47.2,90.3 L47.9,99.8 Z"/>
        <path fill="#ff9c1e" d="M66.7,76.2 L76.8,82.9 C79.5,85 82,88 83.6,91 C85,93.5 86.5,96.5 87,99.8 L55.6,99.8 L56,90.3 C58,89.5 59.5,88 60.7,87 C63,84 65,80 66.7,76.2 Z"/>
        <path fill="none" stroke="#b5a5ad" stroke-width="0.9" d="M37,76 C40,72.8 45,71.5 51.2,71.5 C57,71.5 62,72.8 65.5,76"/>
        <circle fill="#fff" cx="59.3" cy="94" r="1.2"/>
        <ellipse fill="#5c4050" cx="40.8" cy="42.1" rx="2.9" ry="2.2"/>
        <ellipse fill="#5c4050" cx="62" cy="42.1" rx="2.9" ry="2.2"/>
        <path fill="none" stroke="#8e5b45" stroke-width="1.5" stroke-linecap="round" stroke-linejoin="round" d="M51.5,42.5 L49.9,48.5 L53.9,49.2"/>
        <circle fill="#f9ad8f" cx="37.7" cy="51.6" r="4"/>
        <circle fill="#f9ad8f" cx="63.7" cy="51.6" r="4"/>
        <path fill="#f55f5f" d="M45.8,54.6 Q51,55.5 56,55.3 Q54.5,59.3 50.9,59.3 Q47,59.3 45.8,54.6 Z"/>
        <path fill="none" stroke="#5c4050" stroke-width="0.8" d="M40.8,54 L40.6,56 M60,55 L60.2,56.5"/>
    </g>

    <!-- bubbles -->
    <ellipse fill="#cfcfcf" cx="951.8" cy="886.9" rx="78.2" ry="51.9"/>
    <path fill="#cfcfcf" d="M889,908 L877.5,934.3 L906,922 Z"/>
    <ellipse fill="#ffccd8" cx="1176.9" cy="887.6" rx="69.8" ry="52.3"/>
    <path fill="#ffccd8" d="M1226,912 L1238.7,933.9 L1210,926 Z"/>

    <!-- spouse -->
    <g transform="translate(720,885)">
      <path fill="#82cffb" d="M8,202.6 L8,193 C10,187 12,183 15.4,178.8 C19,174 23,170 28.3,167.2 C36,162 44,158 51.5,154.4 C56,152 60,150 64.3,149.2 L118.3,149.2 C128,153 138,160 149.2,166 C156,170 162,175 167.2,180.1 C171,184 174,188 176,193 L176,202.6 Z"/>
      <path fill="#f9ad8f" d="M70.1,130 L113.2,130 L114.5,150.5 C110,157 102,162 93.9,162.1 C85,162 76,157 69.5,149.9 Z"/>
      <ellipse fill="#f8c5b0" cx="42.4" cy="88.8" rx="8.5" ry="10"/>
      <ellipse fill="#f8c5b0" cx="142.1" cy="88.8" rx="8.5" ry="10"/>
      <path fill="#f8c5b0" d="M40,62 L44,45 L141,45 L144,62 L144,85 C142,90 139,97 135,102.9 L40,85 Z"/>
      <path fill="#f8c5b0" d="M40,62 L40,85 C42,92 46,97 48.9,101.6 C52,110 54,118 57.9,123.5 C62,128 67,131 72,132.5 C80,134.5 87,135 93.9,135 C101,135 109,134 115.8,132.5 C121,130 125,127 127.3,123.5 C131,116 133,110 135,102.9 C139,97 142,90 144,85 L144,62 Z"/>
      <path fill="#95614a" d="M39.9,77.2 C39.5,70 39.5,62 39.9,54 C40.5,48 41.5,43 43.7,38.6 C47,33 51,29 55.3,25.7 C62,20 69,17 77.2,15.4 C84,13.5 92,12.9 99,12.9 C107,13 115,14.5 122.2,16.7 C129,20 134,24 137.6,29.6 C141,35 144,42 145.4,48.9 C146,55 146,61 145.4,66.9 C144,72 141,78 137.6,82.3 C134,78 131,72 128.6,66.9 C126,60 123,55 120.9,50.2 C117,54 113,57 109.3,59.2 C105,61.5 101,63 97.8,64.3 L98.4,55.3 C95,58 92,61 88.8,63 C84,66 78,69 72,72 C64,75 55,78 46.3,81 C44,80 42,79 39.9,77.2 Z"/>
      <ellipse fill="#5c4050" cx="115.1" cy="69.5" rx="5" ry="1.9"/>
      <circle fill="#5c4050" cx="72" cy="82.3" r="4.8"/>
      <circle fill="#5c4050" cx="111.9" cy="83" r="4.8"/>
      <path fill="none" stroke="#8e5b45" stroke-width="2.8" stroke-linecap="round" stroke-linejoin="round" d="M92.6,79.8 Q89,92 88.1,99 Q94,100.5 99.7,99.7"/>
      <circle fill="#f9ad8f" cx="66.9" cy="102.3" r="7"/>
      <circle fill="#f9ad8f" cx="117.7" cy="103.5" r="7"/>
      <path fill="none" stroke="#8e5b45" stroke-width="3" stroke-linecap="round" d="M79.8,110 Q92,122 105.5,107.4"/>
    </g>

    <!-- self (woman) -->
    <g transform="translate(1220,885)">
      <path fill="#623f4d" d="M124.8,99 C129,94 134,91.3 138.9,91.3 C148,91 157,95 163.4,101.6 C167,106 169,111 168.5,115.8 C168,122 164,128 162.1,133.8 C161,139 163,143 167.2,142.8 C171,142 174,139 176.2,135 C178.5,137 179,141 178.2,144.1 C177,149 174,153 171.1,156.9 C167,160 162,161.5 158.2,161.4 C152,161 146,156 141.5,149.2 C138,143 137,136 136.4,128.6 C135,120 133,112 129.9,105.5 C128,102 126,100 124.8,99 Z"/>
      <path fill="#ff9c1e" d="M10.3,202.6 C10.5,195 12,186 14.1,180.1 C20,173 27,167 34.7,162.1 C41,157 48,153 55.3,150.5 L81,177.5 L106.8,150.5 C114,154 121,158 128.6,163.4 C134,168 140,172 146.6,177.5 C149,180 150.5,186 152.4,202.6 Z"/>
      <path fill="#f9ad8f" d="M69.5,118 L95.2,118 L95.8,138.9 C98,143 102,147 105.5,150.5 L101.6,157 C95,158 88,159 82,159 C76,159 70,158.5 64.3,158 L57.9,149.9 C62,147 66,143 68.2,138.9 Z"/>
      <ellipse fill="#f8c5b0" cx="37.3" cy="86.2" rx="8" ry="10"/>
      <ellipse fill="#f8c5b0" cx="128.6" cy="83.6" rx="8" ry="10"/>
      <path fill="#f8c5b0" d="M39,40 L39,95 C40,97 41.5,99 42.4,100.3 C46,106 50,111 54,114.5 C62,121 72,124.8 82.3,124.8 C92,124.8 101,121 109.3,115.8 C114,112 119,106 123.5,99 C125,95 126,90 126,85 L126,40 Z"/>
      <path fill="#623f4d" d="M31.5,62 C31,40 38,24 52,18 C62,14 72,14 82.3,14.1 C95,14.5 108,18 118,26 C128,34 133,46 133.1,62 C133,70 131,76 128,80 L123.5,79.8 C120,74 116,67 111.9,61.7 C107,55 101,50 96.5,46.3 C91,52 85,58 77.2,64.3 C68,70 55,76 41.2,81 L36,78 C33,73 31.5,68 31.5,62 Z"/>
      <path fill="none" stroke="#8e5b45" stroke-width="2.6" stroke-linecap="round" d="M97.8,70.5 Q102.5,66.5 107.4,70.8"/>
      <circle fill="#5c4050" cx="64.3" cy="83" r="4.6"/>
      <circle fill="#5c4050" cx="100.3" cy="83" r="4.6"/>
      <path fill="none" stroke="#8e5b45" stroke-width="2.5" stroke-linecap="round" stroke-linejoin="round" d="M81.7,78.5 Q77,84 77.2,87.5 Q81,90 85.5,91.3"/>
      <circle fill="#f9ad8f" cx="59.8" cy="99" r="6.3"/>
      <circle fill="#f9ad8f" cx="103.5" cy="100.3" r="6.3"/>
      <path fill="#f55f5f" d="M75.9,100.3 Q83,99 90,99.7 Q89.5,111.9 82.3,111.9 Q76,111.5 75.9,100.3 Z"/>
    </g>

    <!-- left sibling -->
    <g transform="translate(445,895)">
      <path fill="#5a69af" d="M9.5,148.6 C9.8,145 10.5,142 11.4,140.5 C17,135 23,131 28.5,127.3 C35,123 41,120.5 47.5,118.7 C52,116.5 57,114 61.7,112.5 L61.3,148.6 Z"/>
      <path fill="#5a69af" d="M94,112.5 C99,114 104,116.5 109.2,118.7 C116,121 122,124 128.2,127.3 C134,131 140,135 145.3,139.6 C147,142 147.5,145 147.7,148.6 L95,148.6 Z"/>
      <path fill="none" stroke="#5b3a48" stroke-width="2.8" stroke-linecap="round" stroke-linejoin="round" d="M48,119.2 C46,125 44,131 42.3,137.7 C45,141 48,145 51.3,148.6 M108.7,119.2 C111,125 113,131 114.9,138.7 C112,142 109,145 105.4,148.6"/>
      <path fill="#f9ad8f" d="M64.1,102 L93.5,102 L94,122 C89,124.5 84,125.4 77.9,125.4 C72,125.4 67,124.5 63.5,123 Z"/>
      <ellipse fill="#f8c5b0" cx="38" cy="70.3" rx="5.8" ry="8"/>
      <ellipse fill="#f8c5b0" cx="118.7" cy="69.8" rx="5.8" ry="8"/>
      <path fill="#f8c5b0" d="M41.8,30 L41.8,77.9 C44,84 46,90 47.5,95 C50,99 53,102 57,104.5 C63,107 70,107.8 77.9,107.8 C86,107.8 93,107 99.7,104.5 C104,102 107,98 109.2,93.1 C111,89 113,84 114,79.8 L115,30 Z"/>
      <path fill="#95614a" d="M37,60.8 C36.5,56 36.3,50 36.6,45.6 C37.5,39 39,33 40.8,28.5 C44,22 47,18 51.3,15.2 C55,12 60,9.5 64.6,8.1 C72,7 79,7 85.5,7.6 C89,8.5 92,10.5 95,12.3 C98,13.5 101,14 104.5,15.2 C108,17.5 111,20.5 114,24.7 C116.5,29 118,33 118.7,38 C119,45 119,52 118.7,58.9 C117,62 115,65 113,67.4 C112,64 111,61 110.2,58.9 C108,53 105,48 102.6,43.7 C100,40 97.5,37 95,34.7 C92,39 89,43 85.5,45.6 C81,48 76,49.5 71.2,50.3 C65,51.2 60,52 54.1,53.2 C50,58 47,63 43.7,69.3 C41,66 39,63 37,60.8 Z"/>
      <ellipse fill="#5c4050" cx="59.8" cy="46.1" rx="5" ry="1.5"/>
      <ellipse fill="#5c4050" cx="95" cy="47" rx="5" ry="1.5"/>
      <g fill="none" stroke="#8e5b45" stroke-width="2.7" stroke-linecap="round">
        <ellipse cx="63.2" cy="63.6" rx="10.2" ry="7.8"/>
        <ellipse cx="94" cy="62.7" rx="10.2" ry="7.8"/>
        <path d="M73.4,62.5 Q78.5,60 83.8,62 M53,63 L42.7,63.5 M104.2,62 L115.9,61.7"/>
        <path stroke-width="2" stroke-linejoin="round" d="M73.6,66.5 Q74,74 75,76.9 Q78,78.5 81.2,78.3"/>
        <path stroke-width="2" d="M68.9,86.9 Q78.8,98 88.8,86.9"/>
      </g>
      <circle fill="#5c4050" cx="63.4" cy="63.2" r="3"/>
      <circle fill="#5c4050" cx="94" cy="62.7" r="3"/>
      <circle fill="#f9ad8f" cx="57.9" cy="83.6" r="6.3"/>
      <circle fill="#f9ad8f" cx="99.2" cy="82.6" r="6.3"/>
      <path fill="#95614a" d="M69.5,100.5 C73,102 77,102.5 79,101.5 C82,102 84.5,101.5 86,100.8 C85,104 84,106.5 81.5,107.5 L79,104.5 L76,110 L74,106.5 C72,105.5 70.5,103 69.5,100.5 Z"/>
    </g>

    <!-- right sibling -->
    <g transform="translate(1570,900)">
      <path fill="#95614a" d="M64.3,9.6 C72,10 78,11.5 82.7,13.8 C87,17 90,20 91.9,23 C94,28 96,34 98.3,39.5 C101,43 104,45 105.7,47.8 C108,51 109.8,55 109.8,59.7 C110,64 109.5,68 108.4,71.7 C105,75.5 102,77.5 99.2,79 C96,80 93,80.5 89.6,80.4 L30,74 C28,74 25,73.5 21.1,71.7 C17.5,68 15,64 13.8,59.7 C13.5,56 13.5,52 14.7,49.6 C17,46 19.5,44 22.1,42.3 C25,37 27.5,32 30.3,27.6 C34,23 38.5,20 43.2,17.5 C50,13 57,10 64.3,9.6 Z"/>
      <path fill="#b5cffc" d="M11,140.6 C11.5,136 12.5,133 13.8,130.5 C18,125 23,121 27.6,117.6 C32,114 36,111 39.5,108.4 C41,106 42,104 43.2,102.9 C45,101.5 47.5,101 49.6,101.1 L60.2,107 L72.6,100.6 C75.5,101 78.5,103 80.9,105.7 L84.5,109.3 C89,113 94,116.5 99.2,120.4 C103,124 106,127 108.4,130.5 C110,134 110.5,137 110.7,140.6 Z"/>
      <rect fill="#fff" x="57" y="114" width="7.8" height="26.6"/>
      <path fill="none" stroke="#fff" stroke-width="1.1" stroke-linecap="round" d="M40.9,108.4 L45,114 M46.9,117.6 Q50,119 53.3,118.5 Q57,117 60.6,112.6 Q64,117 68,118.5 Q71,119 74.4,117.6 M76.5,115.5 L82.7,108.9"/>
      <path fill="#f9ad8f" d="M51.9,86 L71.2,86 L71.2,100 C68,104 64,107 60.6,107 C57,107 54,104 51.9,100 Z"/>
      <path fill="#f8c5b0" d="M29.4,57 C30,52 31,48 33.1,45 C36,42 39.5,40.5 43.2,40.4 C45.5,43 47.5,46 49.6,48.7 C57,52 65,55 73.5,57 L90,57 L89.6,78 C86,82 84,84 80.9,85.5 C74,90 67,91.9 59.7,91.9 C52,91.9 45,89 38.6,84.5 C34,81 31,78 30.3,75.3 C29,70 29,63 29.4,57 Z"/>
      <path fill="none" stroke="#5b2f3a" stroke-width="1" stroke-linecap="round" d="M60.2,29.4 C59,35 59,40 59.7,45 M73.5,17.9 C74.5,27 76,35 77.6,41.3"/>
      <circle fill="#5c4050" cx="46.4" cy="64.3" r="3.4"/>
      <circle fill="#5c4050" cx="74.9" cy="65.2" r="3.4"/>
      <path fill="none" stroke="#8e5b45" stroke-width="1.6" stroke-linecap="round" stroke-linejoin="round" d="M60.6,62.5 L60.2,70.8 L62.5,71.2"/>
      <circle fill="#f9ad8f" cx="44.6" cy="76.7" r="5"/>
      <circle fill="#f9ad8f" cx="78.6" cy="76.7" r="5"/>
      <path fill="none" stroke="#f55f5f" stroke-width="1.6" stroke-linecap="round" d="M55.6,77.6 Q61.6,84 67.5,77.6"/>
    </g>

    <!-- son -->
    <g transform="translate(930,1205)">
      <path fill="url(#check)" stroke="#a0a5a8" stroke-width="1" d="M8.4,123.9 L9.2,110.8 C14,106 19,102 23.9,98.8 C27,96.5 31,94.5 34.3,93.2 L43,85.3 L70.1,85.3 L79.7,94 C85,98 90,101.5 95.6,104.4 C99,106.5 101.5,109 103.6,111.6 L104.4,123.9 Z"/>
      <path fill="none" stroke="#9a9fa2" stroke-width="1.2" stroke-linejoin="round" d="M41,88 L48.6,103.6 L55.8,94 L65.3,103.6 L68,100"/>
      <path fill="#f9ad8f" d="M43,77 L69.3,77 L69.3,85.3 L56.2,92.4 L43,85.3 Z"/>
      <ellipse fill="#f8c5b0" cx="28.3" cy="58.6" rx="4" ry="6"/>
      <ellipse fill="#f8c5b0" cx="82.1" cy="57.4" rx="4" ry="6"/>
      <path fill="#f8c5b0" d="M33.5,30 L31.1,65.3 C32,70 33,73 34.3,76.5 C37,79 40,80.5 43,81.3 C47,82.5 52,82.9 56.2,82.9 C60,82.9 64,82.3 68.5,81.3 C72,79.5 75,77 77.3,74.1 C78.5,70 79.3,66 79.7,62.9 L78,30 Z"/>
      <path fill="#623f4d" d="M19.5,41.4 C22,38 24.5,36 27.1,34.3 C28,30 28.5,26 29.9,23.1 C31,20 32.5,17.5 34.3,15.9 C37,14 41,13 44.6,12.7 C47,11 49,9 51.8,8 C56,7.5 60,7.5 63.7,8 C67,10 69.5,12.5 71.7,15.1 C73.5,18 75,20.5 76.5,23.1 C79,25 82,26 84.5,27.1 C87,28 89.5,29 90.8,30.3 C91.5,32 91.5,34 90.8,35.9 C90,38 89,40 87.6,41.4 C89.5,43 91.5,44.5 92.4,46.2 C92.5,48.5 92,50.5 90.8,51.8 C89.5,53.5 88,55 86.1,55.8 C83.5,56.5 81.5,55.5 79.7,54.2 L78,48 C76,45 74,42 71.7,40.6 C67,41 62,41.5 57.4,41.4 C54,38 51,34.5 47.8,31.9 C45,32 42.5,32.5 39.8,33.5 C37.5,34.5 35,36 33.5,37.5 C32.5,43 31.8,50 31.1,55.8 C28.5,55.8 26.5,55 24.7,54.2 C22.5,50 20.5,46 19.5,41.4 Z"/>
      <path fill="none" stroke="#623f4d" stroke-width="1.8" stroke-linecap="round" d="M40,45.5 Q43,44 46,45.5 M62.3,45.5 Q65.3,44 68.3,45.5"/>
      <circle fill="#5c4050" cx="43.4" cy="53.4" r="3"/>
      <circle fill="#5c4050" cx="65.7" cy="53.4" r="3"/>
      <path fill="none" stroke="#8e5b45" stroke-width="1.5" stroke-linecap="round" stroke-linejoin="round" d="M53.4,50.2 Q52,57 52.2,60.6 Q54.5,61.8 56.6,61.8"/>
      <circle fill="#f9ad8f" cx="39.8" cy="62.5" r="4"/>
      <circle fill="#f9ad8f" cx="69.7" cy="62.5" r="4"/>
      <path fill="#fff" stroke="#8e5b45" stroke-width="1.3" stroke-linejoin="round" d="M48.6,68.1 L63.7,66.9 Q62,75.3 55.8,75.3 Q49.5,75 48.6,68.1 Z"/>
    </g>

    <!-- daughter-in-law -->
    <g transform="translate(1110,1220)">
      <defs><clipPath id="dshirt"><path d="M10.2,108.5 C11.5,104 12.5,101 14.1,98.7 C17,94.5 20,92 23.3,89.5 C27,87 30,85.5 33.8,83.9 L60.6,83.9 C64,85.5 67,87.5 70.5,89.5 C73.5,92 76.5,94.5 78.9,97.3 C81.5,101 83,104 84.6,108.5 Z"/></clipPath></defs>
      <path fill="#a02f37" d="M50.7,10.9 C57,11 61,12 64.8,14.1 C70,17.5 73.5,21 76.1,25.4 C78.5,30 79.5,35 80.3,39.5 C81,45 81,50 81,56.4 C80.5,61 79.5,65 77.5,67.7 C78.5,69 79.5,70 80,71.2 C78,73.5 76.5,74.5 74.7,74.7 C71,75 67.5,74.5 64.1,73.3 L30.3,71.9 C28,73 25.5,74 23.3,74 C20,73.8 17,72.5 15.2,71.2 C16,69.5 17,68 17.6,66.9 C15.5,63 14.5,59 14.4,55 C14,48 14.5,42 15.5,36.6 C17.5,30 20.5,25 24.7,21.1 C28,17.5 31.5,15 35.2,13.4 C40,11.5 45,10.9 50.7,10.9 Z"/>
      <path fill="#fff" stroke="#b8c0c4" stroke-width="1.3" d="M10.2,108.5 C11.5,104 12.5,101 14.1,98.7 C17,94.5 20,92 23.3,89.5 C27,87 30,85.5 33.8,83.9 L60.6,83.9 C64,85.5 67,87.5 70.5,89.5 C73.5,92 76.5,94.5 78.9,97.3 C81.5,101 83,104 84.6,108.5 Z"/>
      <g clip-path="url(#dshirt)" fill="#5a69af"><rect x="0" y="95.5" width="90" height="3.2"/><rect x="0" y="105" width="90" height="3.6"/></g>
      <path fill="#f9ad8f" d="M38.4,68 L56.4,68 L56.4,84 C53,87 50,88.1 47.2,88.1 C44,88.1 41,87 38.4,84 Z"/>
      <path fill="#f8c5b0" d="M23.3,47.9 C24,41 25,38 26.8,35.2 C29,32 32,29.5 35.2,28.2 C40,33 46,38 53.6,42.3 C60,44.5 67,46 73.3,46.5 C73.5,55 73,62 71,66 C68,71 63,74 57,75 C53,75.3 50,75 47.9,74.7 C42,74 37,72.5 32.5,70.5 C28,67 25.5,64 24,60 C23.3,56 23.2,52 23.3,47.9 Z"/>
      <path fill="#a02f37" d="M71,46.5 L81,45 L81,56.4 C80.5,61 79.5,65 77.5,67.7 C78.5,69 79.5,70 80,71.2 C78,73.5 76.5,74.5 74.7,74.7 C71,75 67.5,74.5 64.1,73.3 C66,71 68.5,68.5 70,66 C71.5,62 72,55 71,46.5 Z"/>
      <path fill="none" stroke="#5a4a5a" stroke-width="0.9" stroke-linecap="round" d="M45.8,26.1 C50,32 55,36.5 58.5,38.1 C62,39 66,38.8 69.4,38.4 M58.5,26.4 C62,29.5 66,31.5 69.4,32.4"/>
      <path fill="none" stroke="#8e5b45" stroke-width="0.9" stroke-linecap="round" d="M33.5,44.6 Q35.5,44 37.3,44.6"/>
      <circle fill="#5c4050" cx="37.4" cy="52.1" r="2.7"/>
      <circle fill="#5c4050" cx="57.8" cy="52.1" r="2.7"/>
      <path fill="none" stroke="#8e5b45" stroke-width="1.3" stroke-linecap="round" stroke-linejoin="round" d="M46.9,50.7 L44.7,56.4 L48.6,57.8"/>
      <circle fill="#f9ad8f" cx="34.2" cy="61.3" r="3.8"/>
      <circle fill="#f9ad8f" cx="60.6" cy="61.3" r="3.8"/>
      <path fill="none" stroke="#f55f5f" stroke-width="1.3" stroke-linecap="round" d="M41.6,63.4 Q47.9,68 53.6,63.4"/>
    </g>

    <!-- grandchild -->
    <g transform="translate(1040,1385)">
      <path fill="#f75e60" d="M8.2,90.3 C8.5,87 8.8,86 9.3,84.5 C11,82 12.5,81 14.6,79.8 C18,78 21,76.5 24.5,75.7 L25.6,72.8 C27.5,71.5 29.5,71 31.5,71.1 L38.4,75.7 L46,71.1 C48,71.5 50,72.3 51.3,73.4 L54.2,75.7 C58,78 61,80.5 64.1,83.3 C65.5,86 66,88 66.1,90.3 Z"/>
      <path fill="#f9ad8f" d="M31.7,64 L46,64 L46,71.5 L38.4,75.7 L31.7,71.5 Z"/>
      <path fill="none" stroke="#fff" stroke-width="1.1" stroke-linejoin="round" d="M23.9,76.3 L31.5,84.5 L38.4,77.5 L44.8,84.5 L52.4,76.3"/>
      <ellipse fill="#f8c5b0" cx="14" cy="48.9" rx="4.2" ry="4.8"/>
      <ellipse fill="#f8c5b0" cx="63.5" cy="48.9" rx="4.2" ry="4.8"/>
      <path fill="#f8c5b0" d="M17.5,30 L17.5,47 C17.6,50 18,52.5 18.1,54.7 C19,58.5 20.5,61.5 22.1,64.1 C27,67.5 32,69.3 38.4,69.3 C45,69.3 50,67.5 54.7,64.1 C56.5,61.5 58,58.5 58.8,54.7 C59.5,51 60,48 60,45 L60,30 Z"/>
      <path fill="#95614a" d="M17.5,47.2 C15,43 13.8,39 13.7,34.9 C13.6,30 14.5,26.5 16.3,23.3 C19,20 22,17.5 26.2,15.7 C31,14 35.5,13.2 40.8,13.1 C45,13 49,13.5 52.4,14.6 C56,16 59,18.5 61.2,21.5 C63.5,25 65.5,28.5 66.4,32 C66.8,35 66.8,38 66.4,40.8 C65,43 63,45 60.6,46.6 C58,43 55.5,39.5 53,36.7 C49,38.5 45,40.5 40.8,42.5 L39.6,38.1 C37,39.5 35,40.8 32.6,41.9 C31,41 29.5,40.3 28,39.6 C24.5,42 21,44.5 17.5,47.2 Z"/>
      <path fill="none" stroke="#95614a" stroke-width="1.3" stroke-linecap="round" d="M51.3,10.2 L52.4,15.1 M62,11.9 L56.5,16"/>
      <ellipse fill="#5c4050" cx="27.4" cy="50.7" rx="3" ry="2.3"/>
      <ellipse fill="#5c4050" cx="49.5" cy="50.7" rx="3" ry="2.3"/>
      <path fill="none" stroke="#8e5b45" stroke-width="1.2" stroke-linecap="round" d="M35.5,53.3 Q38.4,48 41.6,53"/>
      <circle fill="#f9ad8f" cx="25.9" cy="58.2" r="3.3"/>
      <circle fill="#f9ad8f" cx="50.4" cy="58" r="3.3"/>
      <path fill="none" stroke="#8e5b45" stroke-width="1.5" stroke-linecap="round" d="M32.6,57.4 Q38.4,65 44.6,57.1"/>
    </g>
  </svg>
  <div class="t c" style="left:952px;top:869px;font-size:42px;color:#777;-webkit-text-stroke:0.6px #777;">配偶者</div>
  <div class="t c" style="left:1177px;top:869px;font-size:42px;color:#777;-webkit-text-stroke:0.6px #777;">本人</div>

  <div class="box" style="left:376px;top:446px;height:73px;line-height:77px;">二親等</div>
  <div class="cap" style="left:462px;top:535px;">本人と配偶者の<br>祖父母</div>
  <div class="box" style="left:376px;top:685px;">一親等</div>
  <div class="cap" style="left:462px;top:777.5px;">本人と配偶者の<br>父母</div>
  <div class="box" style="left:987px;top:973px;">0親等</div>
  <div class="cap" style="left:1073px;top:1065px;">夫婦</div>
  <div class="box" style="left:431px;top:1051px;">二親等</div>
  <div class="cap" style="left:517px;top:1143px;letter-spacing:1px;">配偶者の兄弟姉妹<span class="dot">・</span><br>その配偶者</div>
  <div class="box" style="left:1547px;top:1051px;">二親等</div>
  <div class="cap" style="left:1633px;top:1143px;letter-spacing:1px;">本人の兄弟姉妹<span class="dot">・</span><br>その配偶者</div>
  <div class="box" style="left:727px;top:1271px;">一親等</div>
  <div class="cap" style="left:813px;top:1363px;">子<span class="dot">・</span>子の配偶者</div>
  <div class="box" style="left:727px;top:1448px;">二親等</div>
  <div class="cap" style="left:813px;top:1540px;">孫<span class="dot">・</span>孫vの配偶者</div>
</div>
</body>
</html>
